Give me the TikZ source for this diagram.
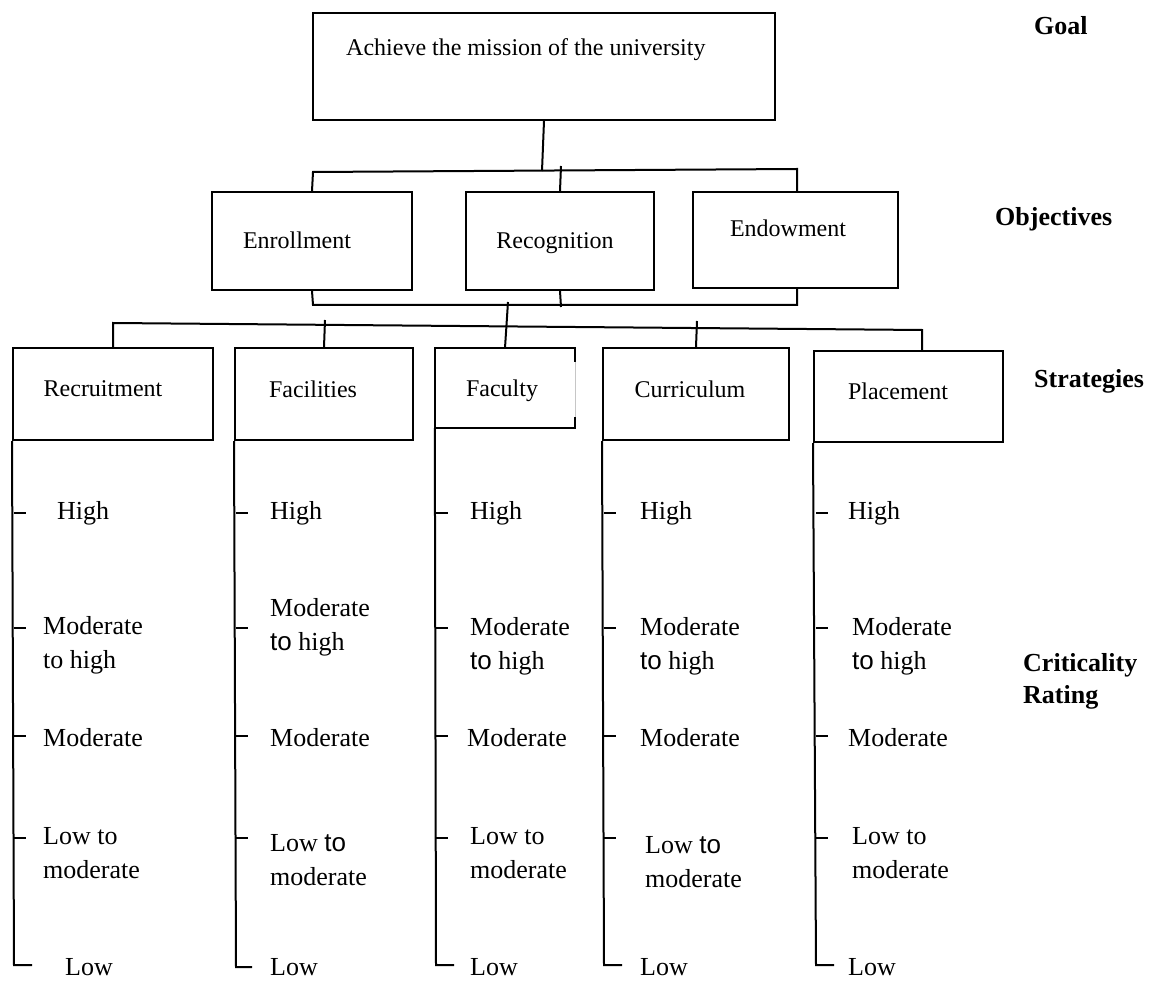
\documentclass[tikz,border=0pt]{standalone}
\usepackage{fontspec}
\setmainfont{Liberation Serif}
\newfontfamily\arialfont{Liberation Sans}
% a few labels set their "to" in a sans face
\newcommand{\sansto}{{\arialfont to}}

\begin{document}
\begin{tikzpicture}[x=1pt,y=-1pt,
  box/.style={draw, line width=2pt, rectangle, inner sep=0pt},
  txt/.style={inner sep=0pt, font=\fontsize{24}{28}\selectfont},
  rate/.style={inner sep=0pt, anchor=west, align=left, font=\fontsize{26}{34}\selectfont},
  head/.style={inner sep=0pt, anchor=west, align=left, font=\fontsize{26}{32}\selectfont\bfseries},
  link/.style={line width=2pt},
  scale line/.style={line width=2pt}]
\useasboundingbox (0,0) rectangle (1149,981);

% ---------- goal ----------
\node[box, minimum width=462pt, minimum height=107pt] (goal) at (544,66.5) {};
\node[txt, anchor=west] (goaltxt) at (346,50) {Achieve the mission of the university};

% ---------- objectives ----------
\node[box, minimum width=200pt, minimum height=98pt] (enr) at (312,241) {};
\node[box, minimum width=188pt, minimum height=98pt] (rec) at (560,241) {};
\node[box, minimum width=205pt, minimum height=96pt] (end) at (795.5,240) {};
\node[txt] (enrtxt) at (297,240) {Enrollment};
\node[txt] (rectxt) at (555,243) {Recognition};
\node[txt] (endtxt) at (788,228) {Endowment};

% ---------- strategies ----------
\node[box, minimum width=200pt, minimum height=92pt] (rcr) at (113,394) {};
\node[box, minimum width=178pt, minimum height=92pt] (fcl) at (324,394) {};
\node[minimum width=140pt, minimum height=80pt, inner sep=0pt] (fac) at (505,388) {};
\node[box, minimum width=186pt, minimum height=92pt] (cur) at (696,394) {};
\node[box, minimum width=189pt, minimum height=91pt] (plc) at (908.5,396.5) {};
\draw[link] ([yshift=-14pt]fac.north east) -- (fac.north east) -- (fac.north west)
  -- (fac.south west) -- (fac.south east) -- ([yshift=11pt]fac.south east);
\draw[gray!45, line width=0.8pt] ([yshift=-14pt]fac.north east) -- ([yshift=11pt]fac.south east);
\node[txt] (rcrtxt) at (103,389) {Recruitment};
\node[txt] (fcltxt) at (313,389) {Facilities};
\node[txt] (factxt) at (502,391) {Faculty};
\node[txt] (curtxt) at (690,389) {Curriculum};
\node[txt] (plctxt) at (898,391) {Placement};

% ---------- connectors: goal to objectives ----------
\coordinate (gj) at (542,171);
\coordinate (ob1) at (313,172);
\coordinate (ob2) at (797,169);
\coordinate (ob3) at (561,166);
\draw[link] (goal.south) -- (gj);
\draw[link] (enr.north) -- (ob1) -- (ob2) -- (ob2 |- end.north);
\draw[link] (rec.north) -- (ob3);

% ---------- connectors: objectives to strategies ----------
\coordinate (lb1) at (313,305);
\coordinate (lb2) at (797,305);
\coordinate (lb3) at (561,307);
\coordinate (lb4) at (508,302);
\draw[link] (enr.south) -- (lb1) -- (lb2) -- (lb2 |- end.south);
\draw[link] (rec.south) -- (lb3);
\draw[link] (lb4) -- (fac.north);

\coordinate (sb1) at (113,323);
\coordinate (sb2) at (922,330);
\coordinate (sb3) at (325,320);
\coordinate (sb4) at (697,321);
\draw[link] (rcr.north) -- (sb1) -- (sb2) -- (sb2 |- plc.north);
\draw[link] (fcl.north) -- (sb3);
\draw[link] (cur.north) -- (sb4);

% ---------- rating scales under each strategy ----------
\coordinate (e1) at (14,965);
\coordinate (e2) at (236,967);
\coordinate (e3) at (436,965);
\coordinate (e4) at (604,965);
\coordinate (e5) at (816,965);
\draw[scale line] (rcr.south west) -- (e1) -- ++(18,0);
\draw[scale line] (fcl.south west) -- (e2) -- ++(16,0);
\draw[scale line] (fac.south west) -- (e3) -- ++(18,0);
\draw[scale line] (cur.south west) -- (e4) -- ++(18,0);
\draw[scale line] (plc.south west) -- (e5) -- ++(18,0);
\foreach \x in {14,236,436,604,816}
  \foreach \y in {513,628,736,838}
    \draw[scale line] (\x,\y) -- ++(12,0);

% ratings, column 1
\node[rate] (a1) at (57,513) {High};
\node[rate] (a2) at (43,645) {Moderate\\to high};
\node[rate] (a3) at (43,738) {Moderate};
\node[rate] (a4) at (43,853) {Low to\\moderate};
\node[rate] (a5) at (65,967) {Low};
% column 2
\node[rate] (b1) at (270,513) {High};
\node[rate] (b2) at (270,627) {Moderate\\\sansto{} high};
\node[rate] (b3) at (270,738) {Moderate};
\node[rate] (b4) at (270,860) {Low \sansto\\moderate};
\node[rate] (b5) at (270,967) {Low};
% column 3
\node[rate] (c1) at (470,513) {High};
\node[rate] (c2) at (470,646) {Moderate\\\sansto{} high};
\node[rate] (c3) at (467,738) {Moderate};
\node[rate] (c4) at (470,853) {Low to\\moderate};
\node[rate] (c5) at (470,967) {Low};
% column 4
\node[rate] (d1) at (640,513) {High};
\node[rate] (d2) at (640,646) {Moderate\\\sansto{} high};
\node[rate] (d3) at (640,738) {Moderate};
\node[rate] (d4) at (645,862) {Low \sansto\\moderate};
\node[rate] (d5) at (640,967) {Low};
% column 5
\node[rate] (f1) at (848,513) {High};
\node[rate] (f2) at (852,646) {Moderate\\\sansto{} high};
\node[rate] (f3) at (848,738) {Moderate};
\node[rate] (f4) at (852,853) {Low to\\moderate};
\node[rate] (f5) at (848,967) {Low};

% ---------- level headings ----------
\node[head] (hgoal) at (1034,26) {Goal};
\node[head] (hobj) at (995,219) {Objectives};
\node[head] (hstr) at (1034,381) {Strategies};
\node[head] (hcrit) at (1023,681) {Criticality\\Rating};
\end{tikzpicture}
\end{document}
